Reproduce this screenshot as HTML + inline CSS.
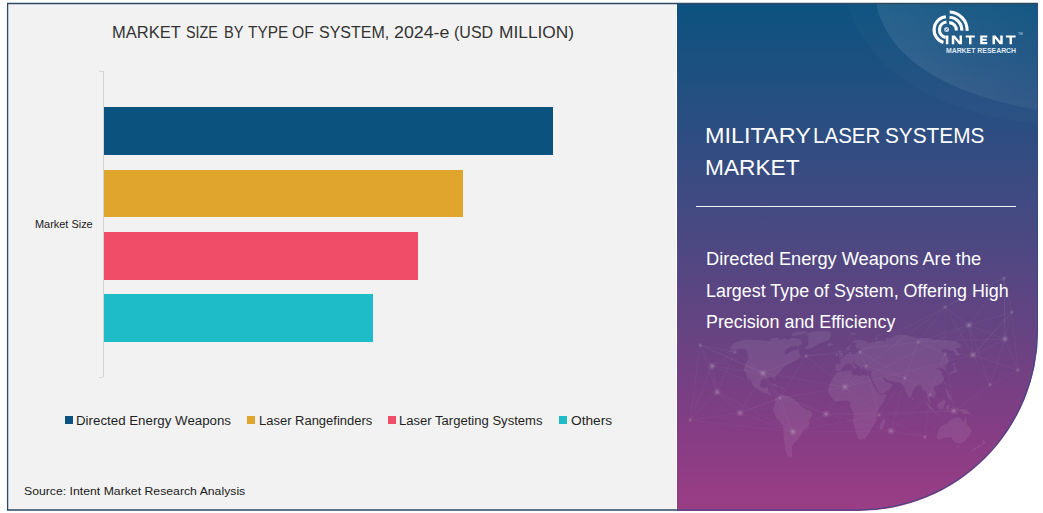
<!DOCTYPE html>
<html><head><meta charset="utf-8"><title>Military Laser Systems Market</title>
<style>
html,body{margin:0;padding:0;background:#fff;}
body{width:1043px;height:513px;position:relative;overflow:hidden;font-family:"Liberation Sans", sans-serif;}
#chartbg{position:absolute;left:8px;top:4px;width:668px;height:505.5px;background:#f2f2f2;}
#panel{position:absolute;left:677px;top:3px;width:361px;height:507.5px;border-bottom-right-radius:180px;overflow:hidden;
 background:linear-gradient(180deg,#0c5280 0%,#244f81 19%,#464982 42.8%,#6c4282 68.4%,#843d84 84%,#9b3d85 100%);}
.bar{position:absolute;left:104px;height:48px;}
.sw{position:absolute;top:416px;width:8px;height:8px;}
.t{position:absolute;white-space:nowrap;transform-origin:0 50%;}
#axis{position:absolute;left:103px;top:71px;width:1px;height:306px;background:#d4d4d4;}
.tick{position:absolute;left:99px;width:4px;height:1px;background:#d9d9d9;}
#rule{position:absolute;left:696px;top:205.7px;width:319.5px;height:1.2px;background:#f3f1f8;}
svg{position:absolute;left:0;top:0;}
</style></head>
<body>
<div id="chartbg"></div>
<div id="panel"></div>
<svg width="1043" height="513" viewBox="0 0 1043 513">
 <defs><linearGradient id="sw" gradientUnits="userSpaceOnUse" x1="1030" y1="8" x2="925" y2="85"><stop offset="0" stop-color="#fff" stop-opacity="0.02"/><stop offset="0.6" stop-color="#fff" stop-opacity="0.055"/><stop offset="1" stop-color="#fff" stop-opacity="0.085"/></linearGradient><clipPath id="pc"><path d="M677 3H1038V330.5A180 180 0 0 1 858 510.5H677Z"/></clipPath></defs>
 <g clip-path="url(#pc)">
  <path d="M876 3 C 884 40, 915 88, 1038 110 L1038 3 Z" fill="url(#sw)"/>
  <path d="M846 3 C 866 60, 915 110, 1038 124 L1038 3 Z" fill="#fff" fill-opacity="0.02"/>
  <path d="M733.1,343.5 L741.7,340.2 L750.3,339.4 L755.4,340.2 L762.9,340.2 L770.1,341.0 L776.4,341.0 L784.9,338.6 L789.6,340.2 L793.4,337.9 L793.4,341.0 L797.4,345.2 L789.6,347.0 L784.8,350.5 L785.2,355.1 L793.2,350.5 L798.3,348.7 L799.2,353.2 L801.1,356.0 L796.9,359.7 L791.3,362.5 L787.6,364.5 L783.5,367.3 L780.8,371.2 L775.4,376.0 L775.3,380.9 L774.0,378.9 L771.9,377.0 L767.5,378.0 L763.1,378.9 L760.8,381.8 L760.0,386.7 L764.9,388.6 L767.8,385.7 L768.0,390.5 L771.0,395.4 L773.5,398.3 L775.2,398.3 L771.8,397.3 L768.5,394.4 L763.5,392.5 L759.5,390.5 L753.2,386.7 L751.5,381.8 L749.1,378.0 L748.1,376.0 L749.6,382.8 L746.9,377.0 L745.8,373.1 L743.8,370.2 L744.6,365.4 L748.1,359.7 L747.7,354.1 L746.2,349.6 L740.1,348.7 L734.0,350.5 L725.3,353.2 L732.2,349.6 L729.5,347.8 L732.1,345.2Z M804.5,348.7 L810.8,348.7 L816.0,345.2 L823.5,341.9 L828.9,340.2 L831.1,335.6 L829.6,331.6 L822.1,331.0 L812.3,331.6 L804.7,334.2 L808.1,335.6 L808.3,340.2 L808.3,344.4Z M775.2,398.3 L780.6,394.4 L785.7,395.4 L790.8,397.3 L795.0,400.2 L799.3,404.1 L801.0,407.0 L806.2,408.9 L811.5,411.8 L812.4,414.7 L809.1,420.5 L808.7,427.3 L803.0,430.2 L801.0,435.0 L797.6,439.9 L794.2,442.7 L792.0,446.6 L792.3,452.3 L791.5,457.9 L787.8,456.0 L785.1,449.5 L784.5,442.7 L783.5,435.0 L783.0,425.3 L777.3,419.5 L773.4,411.8 L773.3,407.9 L775.0,404.1Z M835.3,370.2 L835.5,364.5 L841.0,363.5 L839.6,359.7 L844.1,356.9 L846.2,354.1 L849.2,354.1 L848.3,351.4 L850.5,352.3 L852.1,354.1 L857.1,353.2 L858.8,350.5 L862.0,348.7 L857.8,348.7 L854.7,346.1 L856.9,343.5 L854.1,341.9 L851.7,343.5 L848.0,347.0 L846.1,348.7 L846.8,350.5 L849.6,349.6 L850.6,345.2 L852.7,341.0 L858.0,339.4 L862.5,340.2 L869.7,342.7 L868.9,344.4 L871.3,341.9 L877.3,341.0 L881.7,341.0 L885.5,341.0 L886.3,338.6 L890.6,337.9 L894.3,335.6 L901.0,334.2 L907.0,335.6 L917.5,337.9 L926.5,337.9 L934.9,339.4 L942.3,340.2 L948.5,340.2 L957.3,341.9 L961.0,345.2 L960.5,347.8 L955.5,348.7 L959.3,354.1 L959.1,356.9 L953.6,351.4 L947.4,349.6 L941.8,349.6 L942.5,353.2 L947.9,356.9 L949.1,361.6 L946.3,364.5 L944.9,367.3 L946.4,372.1 L943.4,369.3 L939.3,367.3 L937.7,369.3 L941.9,371.2 L941.8,375.0 L944.4,378.0 L942.3,382.8 L937.8,385.7 L934.4,385.7 L933.2,388.6 L936.4,393.4 L934.1,397.3 L931.5,396.3 L928.6,393.4 L929.0,398.3 L931.9,404.1 L930.1,403.1 L927.3,398.3 L926.7,391.5 L923.0,389.6 L919.8,384.7 L916.5,385.7 L912.9,390.5 L911.6,395.4 L909.1,398.3 L906.2,392.5 L903.8,385.7 L900.1,382.8 L894.9,381.8 L890.6,380.9 L887.1,379.9 L884.2,377.0 L882.7,378.0 L885.6,381.8 L889.1,382.8 L892.7,384.7 L889.7,389.6 L883.9,393.4 L879.6,393.4 L875.8,386.7 L871.9,378.9 L870.8,376.0 L871.9,371.2 L866.9,370.2 L864.4,369.3 L863.4,367.3 L861.1,369.3 L860.2,367.3 L857.6,365.4 L854.3,362.5 L852.7,362.5 L855.3,366.4 L857.0,367.3 L855.5,369.3 L852.1,365.4 L849.6,363.5 L845.7,364.5 L842.6,367.3 L841.8,370.2 L838.5,371.2Z M837.7,372.1 L842.6,371.2 L850.7,370.2 L851.7,374.1 L859.2,376.0 L863.3,375.0 L869.1,376.0 L872.1,381.8 L875.1,388.6 L879.6,394.4 L886.5,394.4 L884.2,401.2 L879.0,407.9 L876.3,413.7 L876.9,420.5 L872.3,427.3 L869.4,433.1 L864.7,438.9 L858.9,439.9 L856.7,435.0 L854.5,427.3 L852.9,420.5 L853.8,413.7 L850.4,407.0 L850.4,402.1 L846.1,400.2 L839.1,401.2 L834.8,401.2 L830.5,396.3 L828.0,391.5 L829.0,385.7 L831.7,379.9 L835.2,375.0Z M879.8,429.2 L882.2,430.2 L885.4,421.5 L884.8,417.6 L882.0,421.5 L880.1,424.4Z M939.3,427.3 L936.5,437.9 L939.0,439.9 L944.7,437.9 L950.8,437.0 L952.9,439.9 L955.5,442.7 L959.8,443.7 L964.1,441.8 L969.9,435.0 L971.7,430.2 L967.1,424.4 L965.9,416.6 L963.4,421.5 L959.7,417.6 L955.4,417.6 L950.9,419.5 L946.8,423.4Z M983.7,438.9 L984.4,441.8 L986.1,442.7 L981.7,445.6 L977.0,448.5 L971.5,451.3 L970.8,450.4 L977.7,446.6 L982.3,443.7Z M838.8,357.8 L843.3,356.9 L843.3,355.1 L841.2,352.3 L840.5,350.5 L838.4,350.5 L839.0,353.2 L840.4,355.1 L838.9,356.0Z M835.2,356.0 L838.2,356.0 L838.3,353.2 L836.1,353.2Z M826.6,345.2 L829.2,346.1 L833.4,344.4 L832.2,343.5 L828.3,343.5Z M950.0,375.0 L950.9,373.1 L954.2,373.1 L957.0,372.1 L956.6,368.3 L954.0,365.4 L955.9,363.5 L952.9,362.5 L953.2,365.4 L954.7,369.3 L953.3,371.2 L950.5,372.1 L949.2,373.1Z M924.8,401.2 L928.4,404.1 L932.7,408.9 L934.3,411.8 L930.9,409.9 L927.5,405.0Z M934.3,411.8 L937.7,412.8 L941.1,413.7 L937.7,413.7 L934.3,412.8Z M937.1,405.0 L939.6,403.1 L943.8,399.2 L945.6,401.2 L944.0,406.0 L943.1,409.9 L938.8,408.9Z M945.7,407.0 L947.5,405.0 L950.9,405.0 L948.3,407.0 L949.1,409.9 L946.5,410.8Z M956.1,407.0 L959.5,408.9 L964.7,408.9 L968.9,411.8 L972.1,415.7 L967.9,413.7 L964.4,414.7 L961.9,412.8 L957.8,409.9Z M945.1,388.6 L946.8,388.6 L949.3,393.4 L951.5,398.3 L950.8,400.2 L948.0,398.3 L946.7,393.4Z M911.7,397.3 L913.5,399.2 L912.7,400.2 L911.8,399.2Z M770.5,384.7 L774.9,383.8 L778.7,386.7 L776.2,386.7 L772.2,384.7Z M779.5,387.6 L783.7,387.6 L783.7,388.6 L779.4,388.6Z M794.6,337.9 L798.9,338.6 L802.6,342.7 L797.8,347.0 L794.7,345.2 L791.8,343.5 L787.8,340.2 L791.1,337.9Z M790.9,335.6 L796.6,335.6 L807.0,332.7 L806.7,331.0 L798.3,331.6 L793.0,332.7Z M769.1,340.2 L774.5,341.0 L779.1,340.2 L779.1,337.9 L773.1,337.9Z M874.6,339.4 L877.0,339.4 L877.6,336.3 L881.1,334.9 L877.1,335.6 L875.0,337.9Z M849.3,334.2 L853.9,334.9 L856.8,333.4 L852.3,332.7Z M952.2,361.6 L950.2,357.8 L946.9,354.1 L947.8,356.0Z M944.2,383.8 L944.7,381.8 L945.7,382.8 L945.3,384.7Z M935.6,387.6 L937.1,386.7 L936.6,388.6Z M957.8,445.6 L960.2,445.6 L958.9,447.5 L956.7,448.5Z" fill="#fff" fill-opacity="0.075"/>
  <g stroke="#fff" stroke-opacity="0.055" stroke-width="0.7"><line x1="712" y1="366" x2="700" y2="345"/><line x1="712" y1="366" x2="717" y2="392"/><line x1="712" y1="366" x2="735" y2="352"/><line x1="712" y1="366" x2="763" y2="373"/><line x1="717" y1="392" x2="740" y2="413"/><line x1="717" y1="392" x2="690" y2="420"/><line x1="717" y1="392" x2="735" y2="352"/><line x1="740" y1="413" x2="780" y2="398"/><line x1="740" y1="413" x2="763" y2="373"/><line x1="740" y1="413" x2="690" y2="420"/><line x1="763" y1="373" x2="780" y2="398"/><line x1="763" y1="373" x2="735" y2="352"/><line x1="763" y1="373" x2="806" y2="356"/><line x1="793" y1="432" x2="780" y2="398"/><line x1="793" y1="432" x2="826" y2="414"/><line x1="793" y1="432" x2="740" y2="413"/><line x1="793" y1="432" x2="763" y2="373"/><line x1="826" y1="414" x2="845" y2="387"/><line x1="826" y1="414" x2="780" y2="398"/><line x1="826" y1="414" x2="879" y2="415"/><line x1="845" y1="387" x2="866" y2="366"/><line x1="845" y1="387" x2="860" y2="352"/><line x1="845" y1="387" x2="879" y2="415"/><line x1="879" y1="415" x2="891" y2="431"/><line x1="879" y1="415" x2="905" y2="378"/><line x1="879" y1="415" x2="866" y2="366"/><line x1="891" y1="431" x2="925" y2="437"/><line x1="891" y1="431" x2="930" y2="395"/><line x1="891" y1="431" x2="905" y2="378"/><line x1="954" y1="411" x2="930" y2="395"/><line x1="954" y1="411" x2="925" y2="437"/><line x1="954" y1="411" x2="990" y2="385"/><line x1="954" y1="411" x2="945" y2="354"/><line x1="973" y1="355" x2="945" y2="354"/><line x1="973" y1="355" x2="969" y2="325"/><line x1="973" y1="355" x2="990" y2="385"/><line x1="973" y1="355" x2="1005" y2="339"/><line x1="1005" y1="339" x2="1012" y2="312"/><line x1="1005" y1="339" x2="1018" y2="370"/><line x1="1005" y1="339" x2="969" y2="325"/><line x1="945" y1="307" x2="969" y2="325"/><line x1="945" y1="307" x2="918" y2="342"/><line x1="945" y1="307" x2="945" y2="354"/><line x1="945" y1="307" x2="973" y2="355"/><line x1="969" y1="325" x2="945" y2="354"/><line x1="1012" y1="312" x2="1004" y2="278"/><line x1="1012" y1="312" x2="969" y2="325"/><line x1="1012" y1="312" x2="973" y2="355"/><line x1="1004" y1="278" x2="969" y2="325"/><line x1="1004" y1="278" x2="1005" y2="339"/><line x1="1004" y1="278" x2="945" y2="307"/><line x1="918" y1="342" x2="945" y2="354"/><line x1="918" y1="342" x2="905" y2="378"/><line x1="918" y1="342" x2="969" y2="325"/><line x1="945" y1="354" x2="930" y2="395"/><line x1="735" y1="352" x2="700" y2="345"/><line x1="700" y1="345" x2="717" y2="392"/><line x1="700" y1="345" x2="763" y2="373"/><line x1="690" y1="420" x2="712" y2="366"/><line x1="690" y1="420" x2="700" y2="345"/><line x1="806" y1="356" x2="780" y2="398"/><line x1="806" y1="356" x2="845" y2="387"/><line x1="806" y1="356" x2="860" y2="352"/><line x1="866" y1="366" x2="860" y2="352"/><line x1="866" y1="366" x2="905" y2="378"/><line x1="905" y1="378" x2="930" y2="395"/><line x1="930" y1="395" x2="925" y2="437"/><line x1="990" y1="385" x2="1018" y2="370"/><line x1="990" y1="385" x2="1005" y2="339"/><line x1="1018" y1="370" x2="973" y2="355"/><line x1="1018" y1="370" x2="1012" y2="312"/><line x1="925" y1="437" x2="879" y2="415"/><line x1="860" y1="352" x2="905" y2="378"/><line x1="712" y1="366" x2="826" y2="414"/><line x1="763" y1="373" x2="845" y2="387"/><line x1="845" y1="387" x2="973" y2="355"/><line x1="826" y1="414" x2="891" y2="431"/><line x1="793" y1="432" x2="879" y2="415"/><line x1="973" y1="355" x2="1012" y2="312"/><line x1="1005" y1="339" x2="1004" y2="278"/><line x1="740" y1="413" x2="780" y2="398"/><line x1="780" y1="398" x2="845" y2="387"/><line x1="793" y1="432" x2="891" y2="431"/><line x1="700" y1="345" x2="763" y2="373"/><line x1="690" y1="420" x2="793" y2="432"/><line x1="879" y1="415" x2="954" y2="411"/><line x1="918" y1="342" x2="1005" y2="339"/><line x1="945" y1="307" x2="1004" y2="278"/><line x1="969" y1="325" x2="990" y2="385"/><line x1="866" y1="366" x2="945" y2="307"/><line x1="826" y1="414" x2="954" y2="411"/><line x1="845" y1="387" x2="969" y2="325"/><line x1="717" y1="392" x2="793" y2="432"/><line x1="806" y1="356" x2="918" y2="342"/><line x1="860" y1="352" x2="945" y2="307"/></g><circle cx="712" cy="366" r="3.6" fill="#fff" fill-opacity="0.07"/><circle cx="712" cy="366" r="1.8" fill="#fff" fill-opacity="0.14"/><circle cx="717" cy="392" r="3.6" fill="#fff" fill-opacity="0.07"/><circle cx="717" cy="392" r="1.8" fill="#fff" fill-opacity="0.14"/><circle cx="740" cy="413" r="3.6" fill="#fff" fill-opacity="0.07"/><circle cx="740" cy="413" r="1.8" fill="#fff" fill-opacity="0.14"/><circle cx="763" cy="373" r="3.6" fill="#fff" fill-opacity="0.07"/><circle cx="763" cy="373" r="1.8" fill="#fff" fill-opacity="0.14"/><circle cx="793" cy="432" r="3.6" fill="#fff" fill-opacity="0.07"/><circle cx="793" cy="432" r="1.8" fill="#fff" fill-opacity="0.14"/><circle cx="826" cy="414" r="3.6" fill="#fff" fill-opacity="0.07"/><circle cx="826" cy="414" r="1.8" fill="#fff" fill-opacity="0.14"/><circle cx="845" cy="387" r="3.6" fill="#fff" fill-opacity="0.07"/><circle cx="845" cy="387" r="1.8" fill="#fff" fill-opacity="0.14"/><circle cx="879" cy="415" r="2.2" fill="#fff" fill-opacity="0.06"/><circle cx="879" cy="415" r="1" fill="#fff" fill-opacity="0.10"/><circle cx="891" cy="431" r="3.6" fill="#fff" fill-opacity="0.07"/><circle cx="891" cy="431" r="1.8" fill="#fff" fill-opacity="0.14"/><circle cx="954" cy="411" r="3.6" fill="#fff" fill-opacity="0.07"/><circle cx="954" cy="411" r="1.8" fill="#fff" fill-opacity="0.14"/><circle cx="973" cy="355" r="3.6" fill="#fff" fill-opacity="0.07"/><circle cx="973" cy="355" r="1.8" fill="#fff" fill-opacity="0.14"/><circle cx="1005" cy="339" r="3.6" fill="#fff" fill-opacity="0.07"/><circle cx="1005" cy="339" r="1.8" fill="#fff" fill-opacity="0.14"/><circle cx="945" cy="307" r="2.2" fill="#fff" fill-opacity="0.06"/><circle cx="945" cy="307" r="1" fill="#fff" fill-opacity="0.10"/><circle cx="969" cy="325" r="3.6" fill="#fff" fill-opacity="0.07"/><circle cx="969" cy="325" r="1.8" fill="#fff" fill-opacity="0.14"/><circle cx="1012" cy="312" r="2.2" fill="#fff" fill-opacity="0.06"/><circle cx="1012" cy="312" r="1" fill="#fff" fill-opacity="0.10"/><circle cx="1004" cy="278" r="2.2" fill="#fff" fill-opacity="0.06"/><circle cx="1004" cy="278" r="1" fill="#fff" fill-opacity="0.10"/><circle cx="918" cy="342" r="2.2" fill="#fff" fill-opacity="0.06"/><circle cx="918" cy="342" r="1" fill="#fff" fill-opacity="0.10"/><circle cx="945" cy="354" r="2.2" fill="#fff" fill-opacity="0.06"/><circle cx="945" cy="354" r="1" fill="#fff" fill-opacity="0.10"/><circle cx="735" cy="352" r="2.2" fill="#fff" fill-opacity="0.06"/><circle cx="735" cy="352" r="1" fill="#fff" fill-opacity="0.10"/><circle cx="700" cy="345" r="2.2" fill="#fff" fill-opacity="0.06"/><circle cx="700" cy="345" r="1" fill="#fff" fill-opacity="0.10"/><circle cx="690" cy="420" r="2.2" fill="#fff" fill-opacity="0.06"/><circle cx="690" cy="420" r="1" fill="#fff" fill-opacity="0.10"/><circle cx="806" cy="356" r="2.2" fill="#fff" fill-opacity="0.06"/><circle cx="806" cy="356" r="1" fill="#fff" fill-opacity="0.10"/><circle cx="866" cy="366" r="2.2" fill="#fff" fill-opacity="0.06"/><circle cx="866" cy="366" r="1" fill="#fff" fill-opacity="0.10"/><circle cx="905" cy="378" r="2.2" fill="#fff" fill-opacity="0.06"/><circle cx="905" cy="378" r="1" fill="#fff" fill-opacity="0.10"/><circle cx="930" cy="395" r="2.2" fill="#fff" fill-opacity="0.06"/><circle cx="930" cy="395" r="1" fill="#fff" fill-opacity="0.10"/><circle cx="990" cy="385" r="2.2" fill="#fff" fill-opacity="0.06"/><circle cx="990" cy="385" r="1" fill="#fff" fill-opacity="0.10"/><circle cx="1018" cy="370" r="2.2" fill="#fff" fill-opacity="0.06"/><circle cx="1018" cy="370" r="1" fill="#fff" fill-opacity="0.10"/><circle cx="925" cy="437" r="2.2" fill="#fff" fill-opacity="0.06"/><circle cx="925" cy="437" r="1" fill="#fff" fill-opacity="0.10"/><circle cx="860" cy="352" r="2.2" fill="#fff" fill-opacity="0.06"/><circle cx="860" cy="352" r="1" fill="#fff" fill-opacity="0.10"/><circle cx="780" cy="398" r="2.2" fill="#fff" fill-opacity="0.06"/><circle cx="780" cy="398" r="1" fill="#fff" fill-opacity="0.10"/>
 </g>
 <path d="M677 510H858A179.5 179.5 0 0 0 1037.5 330.5V3.5" fill="none" stroke="#2f4c86" stroke-width="0.9"/><path d="M1037.5 3.5H7.6V510H677" fill="none" stroke="#2c4a62" stroke-width="1.3"/>
</svg>
<div id="axis"></div><div class="tick" style="top:71px"></div><div class="tick" style="top:376.5px"></div>
<div class="bar" style="top:107px;width:449px;background:#0c527e;height:47.8px"></div>
<div class="bar" style="top:170.2px;width:359px;background:#e0a52c;height:47.3px"></div>
<div class="bar" style="top:232.2px;width:314px;background:#ef4d68;height:47.5px"></div>
<div class="bar" style="top:294.3px;width:269px;background:#1ebcc8;height:47.6px"></div>
<div class="sw" style="left:65px;background:#0c527e"></div>
<div class="sw" style="left:247px;background:#e0a52c"></div>
<div class="sw" style="left:388px;background:#ef4d68"></div>
<div class="sw" style="left:559px;background:#1ebcc8"></div>
<div id="rule"></div>
<div class="t" style="left:111.84px;top:24.96px;font-size:16.7px;line-height:16.7px;color:#333333;transform:scaleX(0.9892)">MARKET</div>
<div class="t" style="left:186.35px;top:24.96px;font-size:16.7px;line-height:16.7px;color:#333333;transform:scaleX(0.8557)">SIZE</div>
<div class="t" style="left:224.40px;top:24.96px;font-size:16.7px;line-height:16.7px;color:#333333;transform:scaleX(0.8763)">BY</div>
<div class="t" style="left:247.75px;top:24.96px;font-size:16.7px;line-height:16.7px;color:#333333;transform:scaleX(0.9218)">TYPE</div>
<div class="t" style="left:291.75px;top:24.96px;font-size:16.7px;line-height:16.7px;color:#333333;transform:scaleX(0.9433)">OF</div>
<div class="t" style="left:318.67px;top:24.96px;font-size:16.7px;line-height:16.7px;color:#333333;transform:scaleX(0.9599)">SYSTEM,</div>
<div class="t" style="left:393.51px;top:24.96px;font-size:16.7px;line-height:16.7px;color:#333333;transform:scaleX(1.0651)">2024-e</div>
<div class="t" style="left:454.21px;top:24.96px;font-size:16.7px;line-height:16.7px;color:#333333;transform:scaleX(0.9593)">(USD</div>
<div class="t" style="left:498.78px;top:24.96px;font-size:16.7px;line-height:16.7px;color:#333333;transform:scaleX(1.0390)">MILLION)</div>
<div class="t" style="left:34.90px;top:219.06px;font-size:10.8px;line-height:10.8px;color:#1a1a1a;transform:scaleX(1.0117)">Market Size</div>
<div class="t" style="left:75.51px;top:414.94px;font-size:12.0px;line-height:12.0px;color:#1f1f1f;transform:scaleX(1.1085)">Directed Energy Weapons</div>
<div class="t" style="left:258.54px;top:414.94px;font-size:12.0px;line-height:12.0px;color:#1f1f1f;transform:scaleX(1.0812)">Laser Rangefinders</div>
<div class="t" style="left:399.33px;top:414.94px;font-size:12.0px;line-height:12.0px;color:#1f1f1f;transform:scaleX(1.0881)">Laser Targeting Systems</div>
<div class="t" style="left:570.65px;top:414.94px;font-size:12.0px;line-height:12.0px;color:#1f1f1f;transform:scaleX(1.1425)">Others</div>
<div class="t" style="left:24.44px;top:485.75px;font-size:11.4px;line-height:11.4px;color:#1a1a1a;transform:scaleX(1.0752)">Source: Intent Market Research Analysis</div>
<div class="t" style="left:705.28px;top:125.38px;font-size:22.0px;line-height:22.0px;color:#ffffff;transform:scaleX(1.0638)">MILITARY</div>
<div class="t" style="left:813.31px;top:125.38px;font-size:22.0px;line-height:22.0px;color:#ffffff;transform:scaleX(0.9348)">LASER</div>
<div class="t" style="left:884.56px;top:125.38px;font-size:22.0px;line-height:22.0px;color:#ffffff;transform:scaleX(0.9455)">SYSTEMS</div>
<div class="t" style="left:705.14px;top:156.78px;font-size:22.0px;line-height:22.0px;color:#ffffff;transform:scaleX(1.0317)">MARKET</div>
<div class="t" style="left:705.50px;top:251.00px;font-size:17.6px;line-height:17.6px;color:#ffffff;transform:scaleX(1.0357)">Directed Energy Weapons Are the</div>
<div class="t" style="left:705.53px;top:282.60px;font-size:17.6px;line-height:17.6px;color:#ffffff;transform:scaleX(1.0170)">Largest Type of System, Offering High</div>
<div class="t" style="left:705.53px;top:314.00px;font-size:17.6px;line-height:17.6px;color:#ffffff;transform:scaleX(1.0158)">Precision and Efficiency</div>
<svg width="1043" height="513" viewBox="0 0 1043 513"><path d="M946.48 22.04A7.8 7.8 0 0 0 945.68 37.43 M945.92 16.67A13.2 13.2 0 0 0 943.44 42.42 M949.20 22.61A7.6 7.6 0 0 1 956.40 30.47 M949.48 17.22A13.0 13.0 0 0 1 961.79 30.65 M949.76 11.93A18.3 18.3 0 0 1 967.09 30.84" fill="none" stroke="#fff" stroke-width="3.1"/><circle cx="946.5999999999999" cy="29.400000000000002" r="2.5" fill="#c9d8ea"/><path d="M945.4 30.5L947.8 28.3" stroke="#2a5d8c" stroke-width="0.8"/><path d="M945.90 35.40H948.35V44.20H945.90ZM951.80 35.40H954.25V44.20H951.80ZM959.55 35.40H962.00V44.20H959.55ZM951.80 35.4L954.75 35.4L962.00 44.2L959.05 44.2ZM965.70 35.40H974.80V37.50H965.70ZM969.02 35.40H971.48V44.20H969.02ZM980.20 35.40H982.65V44.20H980.20ZM980.20 35.40H987.30V37.50H980.20ZM980.20 38.75H986.70V40.85H980.20ZM980.20 42.10H987.30V44.20H980.20ZM992.50 35.40H994.95V44.20H992.50ZM1000.25 35.40H1002.70V44.20H1000.25ZM992.50 35.4L995.45 35.4L1002.70 44.2L999.75 44.2ZM1005.90 35.40H1015.60V37.50H1005.90ZM1009.52 35.40H1011.98V44.20H1009.52Z" fill="#fff"/><text x="945.9" y="52.7" textLength="70.2" lengthAdjust="spacingAndGlyphs" font-family="&quot;Liberation Sans&quot;, sans-serif" font-weight="700" font-size="7.4" fill="#dfe8f3">MARKET RESEARCH</text><text x="1018" y="34.6" font-family="&quot;Liberation Sans&quot;, sans-serif" font-size="3.2" fill="#c5d3e4">TM</text></svg>
</body></html>
